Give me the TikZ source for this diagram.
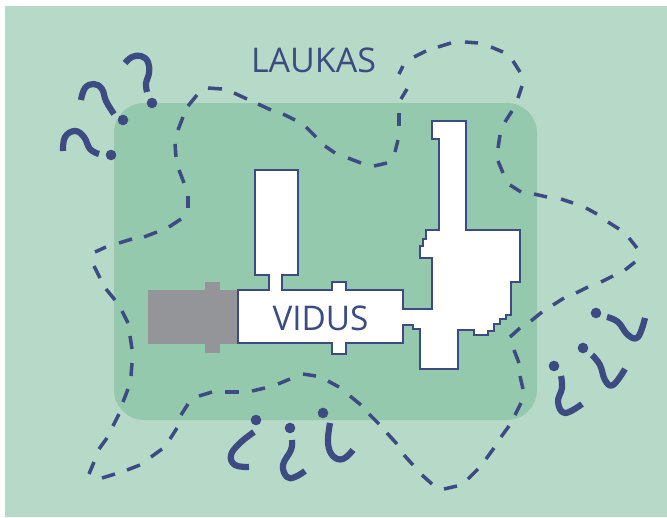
\documentclass[tikz,border=0pt]{standalone}
\usepackage{fontspec}
\setmainfont{Open Sans}
\definecolor{fieldc}{HTML}{B7D9C7}
\definecolor{yardc}{HTML}{95C9AE}
\definecolor{inkc}{HTML}{3C4B82}
\definecolor{annexc}{HTML}{939598}
\tikzset{
  markstroke/.style={draw=inkc,line width=6.2pt,line cap=butt,line join=round},
  dashstroke/.style={draw=inkc,line width=3.5pt,line cap=butt},
  markdot/.style={fill=inkc},
  wall/.style={draw=inkc,line width=2.7pt,fill=white,line join=miter},
  bigword/.style={text=inkc,inner sep=0pt,font=\fontsize{34}{34}\selectfont}
}
\begin{document}
\begin{tikzpicture}[x=1pt,y=-1pt]
\useasboundingbox (0,0) rectangle (667,517);
\fill[white] (0,0) rectangle (667,517);
\fill[fieldc] (5,6) rectangle (667,517);
\fill[yardc,rounded corners=30pt] (114,103) rectangle (537,420);
% grey annex
\fill[annexc] (148,290) rectangle (240,344);
\fill[annexc] (205,282) rectangle (220,353);
% building
\draw[wall] (255,170) -- (298,170) -- (298,275) -- (282,275) -- (282,290)
  -- (332,290) -- (332,282) -- (346,282) -- (346,290) -- (403,290) -- (403,309)
  -- (432,309) -- (432,258) -- (420,258) -- (420,246) -- (423,246) -- (423,239)
  -- (426,239) -- (426,230) -- (439,230) -- (439,139) -- (432,139) -- (432,121)
  -- (466,121) -- (466,230) -- (520,230) -- (520,282) -- (511,282) -- (511,315)
  -- (506,315) -- (506,319) -- (500,319) -- (500,324) -- (494,324) -- (494,331)
  -- (488,331) -- (488,335) -- (474,335) -- (474,330) -- (458,330) -- (458,369)
  -- (420,369) -- (420,329) -- (413,329) -- (413,325) -- (403,325) -- (403,343)
  -- (346,343) -- (346,354) -- (332,354) -- (332,343) -- (238,343) -- (238,290)
  -- (269,290) -- (269,275) -- (255,275) -- cycle;
\node[bigword] (laukas) at (313.5,60) {LAUKAS};
\node[bigword,xscale=0.98] (vidus) at (320.5,318.5) {VIDUS};
% dashed boundary
\foreach \xa/\ya/\xb/\yb in {
 95/252/106/247,119/243/132/239,144/237/157/232,169/227/181/219,188/208/188/196,
 184/183/179/170,176/157/175/144,178/130/183/117,188/106/197/95,208/88/222/89,
 234/93/247/99,258/104/271/110,283/114/295/120,306/127/316/137,325/146/335/153,
 348/158/361/163,374/166/387/163,395/152/398/140,399/126/399/113,401/99/407/89,
 399/74/403/66,414/57/426/51,438/47/451/43,465/42/478/43,491/47/503/52,513/61/520/72,
 522/86/518/98,512/111/505/122,500/135/498/148,498/161/503/173,510/185/521/192,
 534/194/547/197,561/199/573/203,586/208/597/214,608/222/619/229,629/238/637/248,
 635/262/625/270,613/276/601/282,588/287/576/293,564/298/553/305,542/312/531/321,
 520/328/510/337,514/350/519/363,520/376/523/389,521/403/515/415,509/426/501/437,
 494/448/486/459,478/469/468/479,457/486/444/489,432/484/422/475,413/465/404/455,
 397/444/387/433,379/424/369/414,361/405/350/396,339/387/328/381,316/376/303/374,
 290/379/278/384,265/388/252/391,239/392/225/392,212/392/199/396,188/404/181/415,
 177/428/170/439,162/449/151/457,140/465/127/470,115/474/102/478,89/474/94/462,
 99/449/107/438,113/426/119/414,123/402/128/389,131/376/132/363,132/349/130/336,
 128/323/122/311,115/300/106/289,100/278/94/266}{
  \draw[dashstroke] (\xa,\ya) -- (\xb,\yb);
}
% question marks
\draw[markstroke] plot[smooth,tension=0.7] coordinates {(125,63) (132,57) (141,56) (148,62) (149,73) (146,83) (147,92)};
\fill[markdot] (152,103) circle (5.3pt);
\draw[markstroke] plot[smooth,tension=0.7] coordinates {(81,100) (85,88) (94,84) (102,89) (106,101) (114,114)};
\fill[markdot] (123,120) circle (5.3pt);
\draw[markstroke] plot[smooth,tension=0.7] coordinates {(63,151) (65,137) (75,131) (84,137) (90,149) (99,154)};
\fill[markdot] (111,155) circle (5.3pt);
% inverted question marks
\draw[markstroke] plot[smooth,tension=0.7] coordinates {(254,432) (240,443) (231,455) (235,465) (249,467)};
\fill[markdot] (256,420) circle (5.3pt);
\draw[markstroke] plot[smooth,tension=0.7] coordinates {(292,440) (291,450) (283,465) (287,477) (295,477) (305,471)};
\fill[markdot] (290,428) circle (5.3pt);
\draw[markstroke] plot[smooth,tension=0.7] coordinates {(330,423) (328,443) (333,456) (343,459) (353,450)};
\fill[markdot] (323,413) circle (5.3pt);
\draw[markstroke] plot[smooth,tension=0.7] coordinates {(561,376) (562,388) (558,402) (565,413) (582,404)};
\fill[markdot] (554,366) circle (5.3pt);
\draw[markstroke] plot[smooth,tension=0.7] coordinates {(592,355) (600,365) (605,380) (613,385) (625,369)};
\fill[markdot] (583,348) circle (5.3pt);
\draw[markstroke] plot[smooth,tension=0.7] coordinates {(607,317) (618,322) (628,335) (638,337) (645,318)};
\fill[markdot] (596,313) circle (5.3pt);
\end{tikzpicture}
\end{document}
